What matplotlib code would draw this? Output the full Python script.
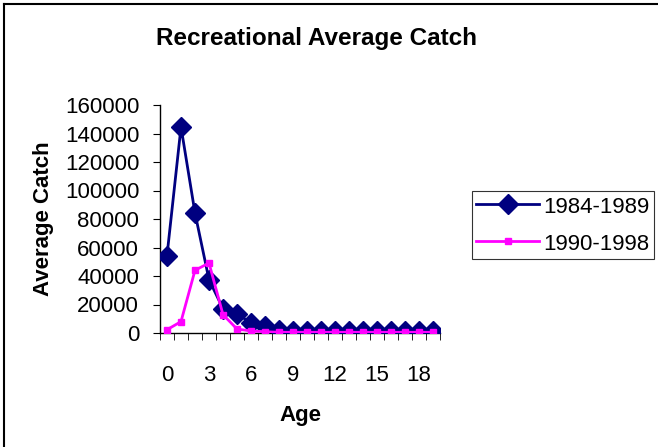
import matplotlib.pyplot as plt
import matplotlib.lines as mlines
import numpy as np

plt.rcParams['font.family'] = ['Liberation Sans', 'DejaVu Sans']

# average catch by age for the two periods
ages = list(range(20))
catch_8489 = [54300, 144600, 84200, 37400, 17100, 13600, 7000, 4900, 2300, 1400,
              1400, 1400, 1400, 1400, 1400, 1400, 1400, 1400, 1400, 1400]
catch_9098 = [2300, 8000, 44000, 49100, 12900, 2800, 1400, 900, 500, 500,
              500, 500, 500, 500, 500, 500, 500, 500, 500, 500]
yticks = [0, 20000, 40000, 60000, 80000, 100000, 120000, 140000, 160000]
xlabels = [0, 3, 6, 9, 12, 15, 18]

fig = plt.figure(figsize=(6.58, 4.47), dpi=100)
ax = fig.add_axes([160/658, 1-333/447, 280/658, 228/447])

navy = '#000080'
pink = '#ff00ff'
ax.plot(ages, catch_8489, color=navy, lw=2, marker='D', ms=10.5,
        label='1984-1989', zorder=3)
ax.plot(ages, catch_9098, color=pink, lw=2, marker='s', ms=5,
        label='1990-1998', zorder=4)

ax.set_xlim(-0.5, 19.5)
ax.set_ylim(0, 160000)
ax.set_yticks(yticks)
ax.set_yticklabels([str(v) for v in yticks], fontsize=16)
ax.tick_params(axis='y', direction='out', length=5, pad=10)

# category boundaries as tick marks, labels every third age
ax.set_xticks(np.arange(-0.5, 20, 1), minor=True)
ax.set_xticks(xlabels)
ax.set_xticklabels([str(v) for v in xlabels], fontsize=16)
ax.tick_params(axis='x', which='major', length=0, pad=23)
ax.tick_params(axis='x', which='minor', direction='out', length=5)

for s in ['top', 'right']:
    ax.spines[s].set_visible(False)
for s in ['left', 'bottom']:
    ax.spines[s].set_color('black')
    ax.spines[s].set_linewidth(1)

ax.set_xlabel('Age', fontsize=16, fontweight='bold', labelpad=14)
ax.set_ylabel('Average Catch', fontsize=16, fontweight='bold', labelpad=8)
fig.text(317/658, 1-38/447, 'Recreational Average Catch', fontsize=17.5,
         fontweight='bold', ha='center', va='center')

leg = fig.legend(loc='center left', bbox_to_anchor=(472/658, 1-225/447),
                 fontsize=16, frameon=True, fancybox=False, edgecolor='black',
                 handlelength=2.8, handleheight=1.0, handletextpad=0.2,
                 borderpad=0.2, labelspacing=0.65, borderaxespad=0)
leg.get_frame().set_linewidth(0.8)

# outer border (left and top edges)
fig.add_artist(mlines.Line2D([4/658, 4/658], [0, 1-4/447], color='black',
                             lw=1.5, transform=fig.transFigure))
fig.add_artist(mlines.Line2D([4/658, 1], [1-4/447, 1-4/447], color='black',
                             lw=1.5, transform=fig.transFigure))

fig.savefig('out.png', dpi=100)
